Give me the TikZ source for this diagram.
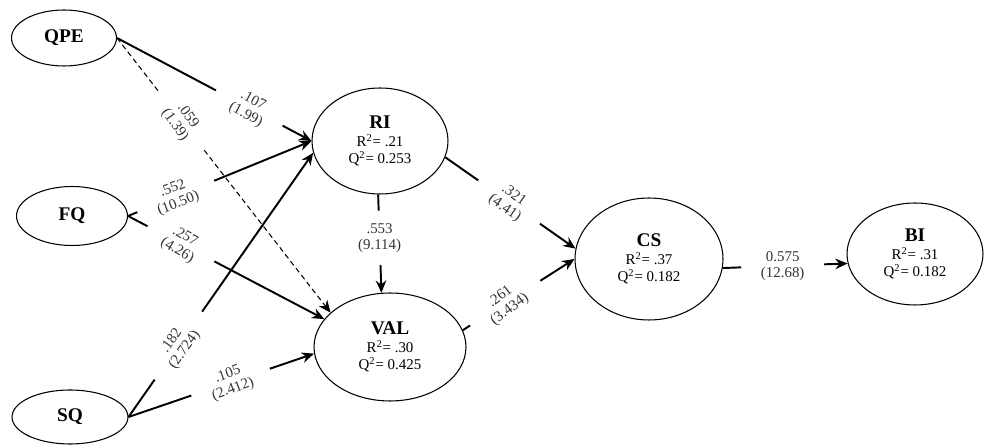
\documentclass[tikz,border=0pt]{standalone}
\usepackage{fontspec}
\setmainfont{Liberation Serif}
\usetikzlibrary{shapes.geometric,arrows.meta,calc}

\tikzset{
	latent/.style={ellipse, draw, line width=0.6pt, inner sep=0pt, align=center,
		font=\fontsize{8.5}{9.8}\selectfont},
	coef/.style={align=center, font=\fontsize{8.5}{9}\selectfont, text=black!80,
		inner xsep=11pt, inner ysep=7pt},
	link/.style={line width=1.1pt},
	linkarrow/.style={link, -{Stealth[length=7pt,width=6pt]}},
	weaklink/.style={line width=0.6pt, dash pattern=on 3pt off 2pt},
	weakarrow/.style={weaklink, -{Stealth[length=7pt,width=6pt]}}
}
\newcommand{\lname}[1]{{\fontsize{11}{12}\selectfont\bfseries #1}}

\begin{document}
\begin{tikzpicture}[x=0.02cm, y=-0.02cm]
		
		\useasboundingbox (0,0) rectangle (984,445);
		
		%Exogenous constructs
		\node (QPE) at (64,38) [latent, minimum width=2.1cm, minimum height=1.12cm]{\lname{QPE}};
		\node (FQ) at (72,216) [latent, minimum width=2.22cm, minimum height=1.18cm]{\lname{FQ}};
		\node (SQ) at (70,417) [latent, minimum width=2.32cm, minimum height=1.08cm]{\lname{SQ}};
		
		%Endogenous constructs
		\node (RI) at (380,141) [latent, minimum width=2.72cm, minimum height=2.12cm]
		{\lname{RI}\\R\textsuperscript{2}= .21\\Q\textsuperscript{2}= 0.253};
		\node (VAL) at (390,347) [latent, minimum width=3.04cm, minimum height=2.16cm]
		{\lname{VAL}\\R\textsuperscript{2}= .30\\Q\textsuperscript{2}= 0.425};
		\node (CS) at (649,259) [latent, minimum width=2.96cm, minimum height=2.44cm]
		{\lname{CS}\\R\textsuperscript{2}= .37\\Q\textsuperscript{2}= 0.182};
		\node (BI) at (915,254) [latent, minimum width=2.72cm, minimum height=2.04cm]
		{\lname{BI}\\R\textsuperscript{2}= .31\\Q\textsuperscript{2}= 0.182};
		
		%Path coefficients
		\node (c107) at ($(QPE.east)!0.68!(RI.west)$) [coef, rotate=-28]{.107\\(1.99)};
		\node (c059) at ($(QPE.east)!0.30!(VAL.150)$) [coef, rotate=-55]{.059\\(1.39)};
		\node (c552) at ($(FQ.east)!0.26!(RI.west)$) [coef, rotate=21]{.552\\(10.50)};
		\node (c257) at ($(FQ.east)!0.27!(VAL.157)$) [coef, rotate=-30]{.257\\(4.26)};
		\node (c182) at ($(SQ.east)!0.27!(RI.190)$) [coef, rotate=55]{.182\\(2.724)};
		\node (c105) at ($(SQ.east)!0.55!(VAL.185)$) [coef, rotate=20]{.105\\(2.412)};
		\node (c553) at ($(RI.268)!0.44!(VAL.99)$) [coef]{.553\\(9.114)};
		\node (c321) at ($(RI.-14)!0.49!(CS.172)$) [coef, rotate=-35]{.321\\(4.41)};
		\node (c261) at ($(VAL.13)!0.38!(CS.180)$) [coef, rotate=37]{.261\\(3.434)};
		\node (c575) at ($(CS.-7)!0.48!(BI.188)$) [coef]{0.575\\(12.68)};
		
		%Paths
		\draw[link] (QPE.east) -- (c107);
		\draw[linkarrow] (c107) -- (RI.west);
		\draw[weaklink] (QPE.east) -- (c059);
		\draw[weakarrow] (c059) -- (VAL.150);
		\draw[link] (FQ.east) -- (c552);
		\draw[linkarrow] (c552) -- (RI.west);
		\draw[link] (FQ.east) -- (c257);
		\draw[linkarrow] (c257) -- (VAL.157);
		\draw[link] (SQ.east) -- (c182);
		\draw[linkarrow] (c182) -- (RI.190);
		\draw[link] (SQ.east) -- (c105);
		\draw[linkarrow] (c105) -- (VAL.185);
		\draw[link] (RI.268) -- (c553);
		\draw[linkarrow] (c553) -- (VAL.99);
		\draw[link] (RI.-14) -- (c321);
		\draw[linkarrow] (c321) -- (CS.172);
		\draw[link] (VAL.13) -- (c261);
		\draw[linkarrow] (c261) -- (CS.180);
		\draw[link] (CS.-7) -- (c575);
		\draw[linkarrow] (c575) -- (BI.188);
		
\end{tikzpicture}
\end{document}
